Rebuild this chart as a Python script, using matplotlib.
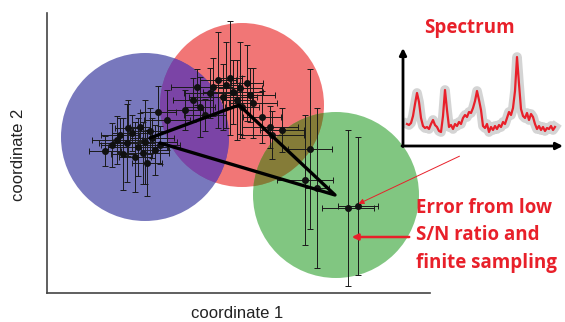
import numpy as np
import matplotlib
matplotlib.use("Agg")
import matplotlib.pyplot as plt
from matplotlib.patches import Circle

# 円（クラスタ）: 中心x, 中心y, 半径, 色
circ_x = [19.5, 9.8, 28.9]
circ_y = [18.8, 15.6, 9.8]
circ_r = [8.2, 8.4, 8.3]
circ_col = ["#ef5e5e", "#4e4ea8", "#5ab45a"]
circ_alpha = [0.85, 0.76, 0.76]
# 重なり部分の色
mix_blue_red = "#7b44a6"
mix_green_red = "#857c38"

# 青クラスタの点
blue_x = [5.8, 7.0, 7.6, 8.5, 9.1, 10.0, 10.5, 11.1, 9.3, 8.0, 10.8, 7.3, 12.0, 6.5, 9.8, 8.8, 11.3, 8.1, 9.6, 10.3]
blue_y = [14.2, 15.3, 13.9, 16.0, 14.6, 13.0, 15.5, 18.1, 16.6, 15.0, 14.3, 15.8, 17.3, 14.8, 15.1, 13.6, 14.8, 16.5, 14.0, 16.2]
blue_xe = [1.6, 2.5, 1.2, 2.0, 3.0, 1.5, 2.2, 1.8, 1.0, 2.8, 1.4, 1.9, 2.3, 1.1, 3.2, 1.6, 2.0, 1.3, 2.6, 1.7]
blue_ye = [1.5, 2.4, 3.6, 1.8, 2.9, 3.3, 2.0, 2.6, 1.4, 3.9, 2.5, 1.7, 3.0, 2.2, 4.2, 3.5, 1.9, 2.8, 3.1, 2.3]

# 赤クラスタの点
red_x = [14.6, 15.3, 16.3, 17.1, 18.3, 18.6, 19.3, 20.0, 20.6, 21.5, 22.3, 17.6, 19.0, 16.6, 15.0, 19.5, 22.5, 17.9, 20.3, 15.8, 13.8, 23.5]
red_y = [19.3, 18.6, 20.0, 21.3, 21.5, 20.1, 20.5, 21.0, 19.0, 17.6, 16.6, 19.6, 19.3, 20.6, 20.6, 18.6, 15.8, 20.8, 19.8, 17.8, 18.3, 16.3]
red_xe = [2.0, 1.5, 2.6, 1.8, 1.2, 3.0, 2.2, 1.6, 2.4, 1.9, 2.8, 3.4, 1.5, 2.0, 2.6, 1.7, 3.2, 1.3, 2.5, 2.1, 1.8, 2.2]
red_ye = [2.2, 3.0, 2.5, 4.8, 5.7, 3.2, 4.6, 3.8, 3.5, 2.6, 2.1, 3.3, 4.0, 2.9, 1.8, 3.1, 2.4, 4.3, 2.7, 1.6, 2.0, 2.2]

# 緑クラスタの点
green_x = [26.3, 25.8, 27.0, 30.1, 31.1]
green_y = [14.4, 11.3, 10.5, 8.5, 8.7]
green_xe = [2.2, 2.8, 1.2, 2.6, 2.0]
green_ye = [8.0, 6.5, 8.0, 7.8, 6.9]

# クラスタ中心を結ぶ太線
path_x = [10.3, 19.2, 28.8, 11.3]
path_y = [15.5, 18.8, 9.8, 15.0]

# スペクトル
spec_x = np.arange(4, 153, 2)
spec_y = [22, 21, 23, 30, 42, 53, 44, 28, 20, 18, 19, 17, 22, 26, 21, 19, 15, 14, 30, 56,
          36, 19, 21, 17, 22, 20, 24, 22, 28, 31, 29, 34, 33, 38, 45, 55, 46, 36, 20, 18,
          22, 14, 19, 16, 20, 17, 21, 19, 24, 22, 28, 34, 31, 38, 55, 89, 62, 37, 30, 28,
          33, 26, 32, 29, 22, 17, 20, 16, 19, 15, 18, 17, 20, 16, 19]

red_txt = "#e8202a"

fig = plt.figure(figsize=(5.65, 3.22), dpi=100, facecolor="w")
ax = fig.add_axes([47 / 565, 29 / 322, 383 / 565, 280 / 322])
ax.set_xlim(0, 38.3)
ax.set_ylim(0, 28.0)
ax.set_xticks([])
ax.set_yticks([])
for s in ["top", "right"]:
    ax.spines[s].set_visible(False)
for s in ["left", "bottom"]:
    ax.spines[s].set_color("#444444")
    ax.spines[s].set_linewidth(1.2)

circles = []
for cx, cy, r, c, a in zip(circ_x, circ_y, circ_r, circ_col, circ_alpha):
    p = Circle((cx, cy), r, facecolor=c, edgecolor="none", alpha=a, zorder=1)
    ax.add_patch(p)
    circles.append(p)

# 重なり部分
for i, col in [(1, mix_blue_red), (2, mix_green_red)]:
    p = Circle((circ_x[i], circ_y[i]), circ_r[i], facecolor=col, edgecolor="none", zorder=2)
    ax.add_patch(p)
    p.set_clip_path(circles[0])

ekw = dict(fmt="o", ms=4, color="#111111", ecolor="#1a1a1a", elinewidth=0.7, capsize=2, capthick=0.7, zorder=4)
ax.errorbar(blue_x, blue_y, xerr=blue_xe, yerr=blue_ye, **ekw)
ax.errorbar(red_x, red_y, xerr=red_xe, yerr=red_ye, **ekw)
ax.errorbar(green_x, green_y, xerr=green_xe, yerr=green_ye, **ekw)

ax.plot(path_x, path_y, color="black", lw=2.4, zorder=5, solid_capstyle="round")

# 赤い矢印
ax.annotate("", xy=(green_x[4] - 0.2, green_y[4] + 0.1), xytext=(462, 167), textcoords="figure pixels",
            arrowprops=dict(arrowstyle="-|>", color=red_txt, lw=0.7, mutation_scale=8), zorder=6)
ax.annotate("", xy=(green_x[3] + 0.1, 5.6), xytext=(412, 85), textcoords="figure pixels",
            arrowprops=dict(arrowstyle="-|>", color=red_txt, lw=1.8, mutation_scale=9), zorder=6)

fig.text(237 / 565, 1 - 313 / 322, "coordinate 1", ha="center", va="center",
         fontsize=12, family="Liberation Sans", color="#222222")
fig.text(19 / 565, 1 - 155 / 322, "coordinate 2", ha="center", va="center", rotation=90,
         fontsize=12, family="Liberation Sans", color="#222222")

# スペクトルの挿入図
ins = fig.add_axes([403 / 565, 176 / 322, 160 / 565, 98 / 322])
ins.set_xlim(0, 160)
ins.set_ylim(0, 98)
ins.axis("off")
ins.annotate("", xy=(0, 98), xytext=(0, -0.5),
             arrowprops=dict(arrowstyle="-|>", color="black", lw=2, mutation_scale=10, shrinkA=0, shrinkB=0))
ins.annotate("", xy=(160, 0), xytext=(-1, 0),
             arrowprops=dict(arrowstyle="-|>", color="black", lw=2, mutation_scale=10, shrinkA=0, shrinkB=0))
ins.plot(spec_x, spec_y, color="#d0d0d0", lw=7, alpha=0.9, solid_joinstyle="round")
ins.plot(spec_x, spec_y, color=red_txt, lw=1.6, solid_joinstyle="round")

fig.text(469 / 565, 1 - 28 / 322, "Spectrum", ha="center", va="center",
         fontsize=13.5, family="Open Sans", weight="bold", color=red_txt)
fig.text(416 / 565, 1 - 198 / 322, "Error from low\nS/N ratio and\nfinite sampling", ha="left", va="top",
         fontsize=13.5, family="Open Sans", weight="bold", color=red_txt, linespacing=1.5)

fig.savefig("out.png", dpi=100)
